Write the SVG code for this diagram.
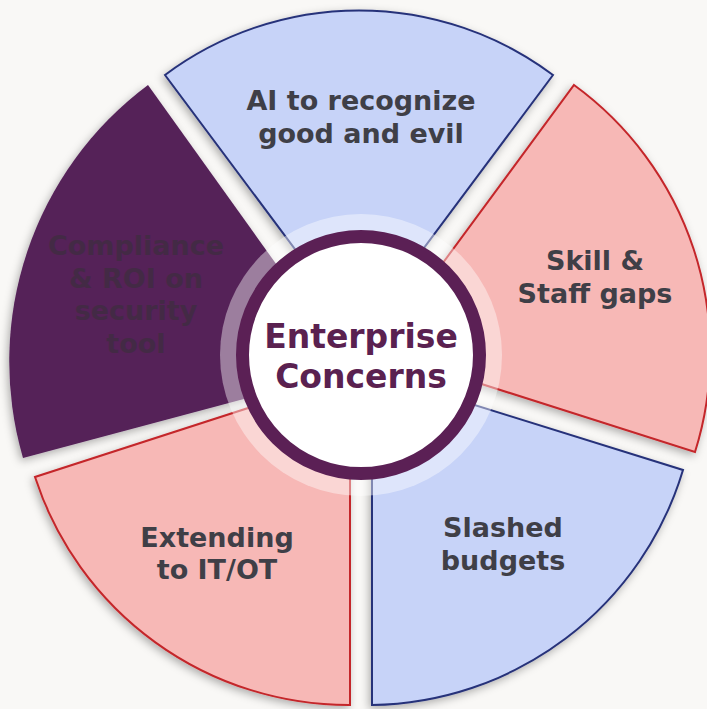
<svg xmlns="http://www.w3.org/2000/svg" width="707" height="709" viewBox="0 0 707 709">
  <defs>
    <filter id="shadow" x="-20%" y="-20%" width="140%" height="140%">
      <feDropShadow dx="-2" dy="3" stdDeviation="4" flood-color="#000" flood-opacity="0.3"/>
    </filter>
    <style>
      .blue { fill: #c7d3f8; stroke: #27327a; stroke-width: 2; stroke-linejoin: miter; filter: url(#shadow); }
      .pink { fill: #f7b8b6; stroke: #c4262a; stroke-width: 2; stroke-linejoin: miter; filter: url(#shadow); }
      .purple { fill: #552159; filter: url(#shadow); }
      .label { font-family: "DejaVu Sans", "Liberation Sans", sans-serif; font-weight: bold; font-size: 27px; fill: #3f3f47; text-anchor: middle; }
      .dim { fill: #432a45; }
      .center { font-family: "DejaVu Sans", "Liberation Sans", sans-serif; font-weight: bold; font-size: 33px; fill: #5a2150; text-anchor: middle; }
    </style>
  </defs>
  <rect width="707" height="709" fill="#f9f8f6"/>

  <g id="seg-compliance">
    <path class="purple" d="M 352 370 L 23 458 A 345 345 0 0 1 148 85 Z"/>
    <text class="label dim" x="136" y="255">Compliance</text>
    <text class="label dim" x="136" y="288">&amp; ROI on</text>
    <text class="label dim" x="136" y="320">security</text>
    <text class="label dim" x="136" y="353">tool</text>
  </g>

  <g id="seg-ai">
    <path class="blue" d="M 359 335 L 165 75 A 324 324 0 0 1 553 75 Z"/>
    <text class="label" x="361" y="110">AI to recognize</text>
    <text class="label" x="361" y="143">good and evil</text>
  </g>

  <g id="seg-skill">
    <path class="pink" d="M 378 351 L 574 85 A 331 331 0 0 1 695 452 Z"/>
    <text class="label" x="595" y="270">Skill &amp;</text>
    <text class="label" x="595" y="303">Staff gaps</text>
  </g>

  <g id="seg-budgets">
    <path class="blue" d="M 372 373 L 683 470 A 330 330 0 0 1 372 705 Z"/>
    <text class="label" x="503" y="537">Slashed</text>
    <text class="label" x="503" y="570">budgets</text>
  </g>

  <g id="seg-extending">
    <path class="pink" d="M 350 375 L 350 705 A 330 330 0 0 1 35 477 Z"/>
    <text class="label" x="217" y="547">Extending</text>
    <text class="label" x="217" y="579">to IT/OT</text>
  </g>

  <g id="hub">
    <circle cx="361" cy="355" r="141" fill="#ffffff" fill-opacity="0.42"/>
    <circle cx="361" cy="355" r="118.5" fill="#ffffff" stroke="#5b2055" stroke-width="13"/>
    <text class="center" x="361" y="348">Enterprise</text>
    <text class="center" x="361" y="388">Concerns</text>
  </g>

  <g id="connectors"></g>
</svg>
